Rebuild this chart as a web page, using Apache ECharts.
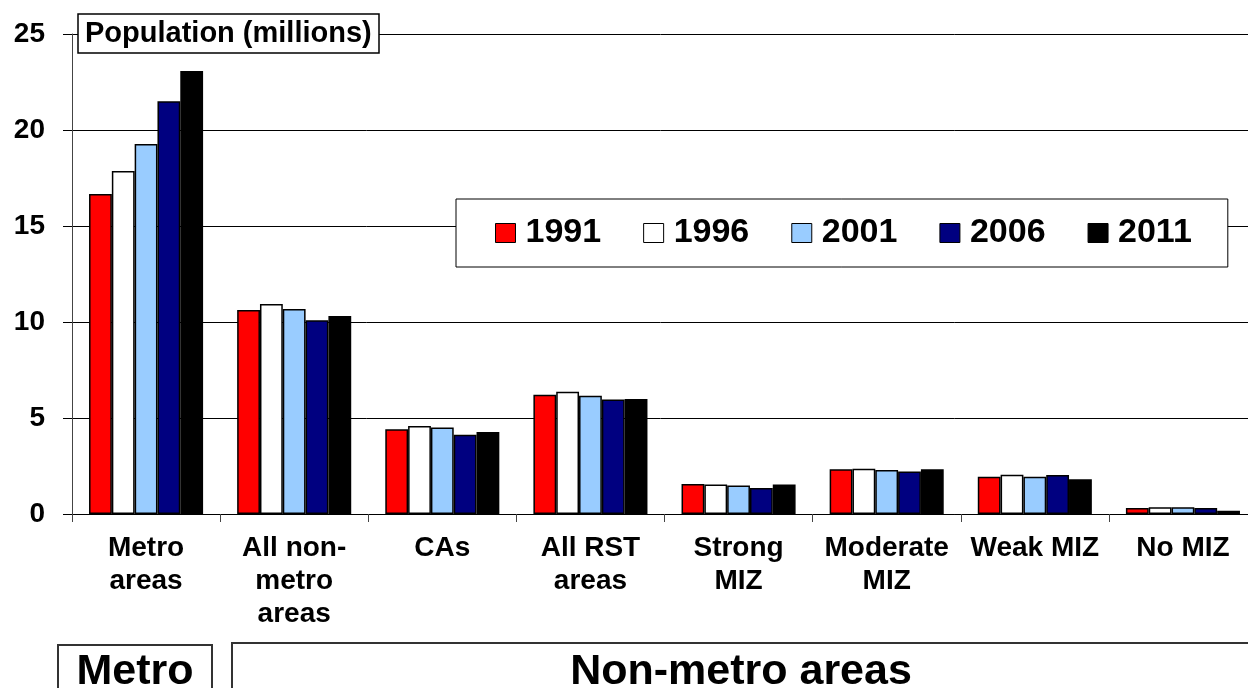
<!DOCTYPE html>
<html>
<head>
<meta charset="utf-8">
<title>Population (millions)</title>
<script src="https://cdn.jsdelivr.net/npm/echarts@6/dist/echarts.min.js"></script>
<style>
  html, body { margin: 0; padding: 0; background: #fff; }
  #chart { width: 1248px; height: 688px; }
</style>
</head>
<body>
<div id="chart"></div>
<script>
// categories (x axis)
const categories = ['Metro\nareas', 'All non-\nmetro\nareas', 'CAs', 'All RST\nareas', 'Strong\nMIZ', 'Moderate\nMIZ', 'Weak MIZ', 'No MIZ'];
// population in millions
const pop1991 = [16.67, 10.63, 4.41, 6.21, 1.56, 2.33, 1.94, 0.31];
const pop1996 = [17.86, 10.94, 4.58, 6.37, 1.54, 2.36, 2.05, 0.35];
const pop2001 = [19.27, 10.68, 4.51, 6.16, 1.49, 2.29, 1.94, 0.35];
const pop2006 = [21.5, 10.09, 4.13, 5.97, 1.35, 2.22, 2.03, 0.31];
const pop2011 = [23.07, 10.31, 4.27, 5.99, 1.54, 2.33, 1.81, 0.17];
const years = ['1991', '1996', '2001', '2006', '2011'];
const yTicks = [0, 5, 10, 15, 20, 25];

const FONT = '"Liberation Sans", Arial, sans-serif';
const colors = ['#ff0000', '#ffffff', '#99ccff', '#000080', '#000000'];
const seriesData = [pop1991, pop1996, pop2001, pop2006, pop2011];

const chart = echarts.init(document.getElementById('chart'));

const option = {
  animation: false,
  textStyle: { fontFamily: FONT },
  title: {
    text: 'Population (millions)',
    left: 78,
    top: 14,
    padding: [5, 7],
    backgroundColor: '#fff',
    borderColor: '#000',
    borderWidth: 1.5,
    textStyle: { fontFamily: FONT, fontSize: 29, fontWeight: 'bold', color: '#000' },
  },
  legend: {
    data: years,
    left: 456,
    top: 199,
    padding: [17, 36, 17, 39],
    backgroundColor: '#fff',
    borderColor: '#000',
    borderWidth: 1,
    itemWidth: 20,
    itemHeight: 19,
    itemGap: 42,
    icon: 'rect',
    itemStyle: { borderColor: '#000', borderWidth: 1 },
    textStyle: { fontFamily: FONT, fontSize: 34, fontWeight: 'bold', color: '#000', padding: [0, 0, 0, 5] },
  },
  // plot runs a little past the right edge of the picture
  grid: {
    left: 72,
    right: -9,
    top: 34,
    bottom: 174,
    containLabel: false,
    outerBoundsMode: 'none',
  },
  xAxis: {
    type: 'category',
    data: categories,
    axisLine: { show: true, lineStyle: { color: '#000', width: 1 } },
    axisTick: { show: true, length: 8, lineStyle: { color: '#444' } },
    axisLabel: {
      interval: 0,
      margin: 18,
      color: '#000',
      fontFamily: FONT,
      fontSize: 28,
      fontWeight: 'bold',
      lineHeight: 33,
    },
  },
  yAxis: {
    type: 'value',
    min: yTicks[0],
    max: yTicks[yTicks.length - 1],
    interval: 5,
    axisLine: { show: true, lineStyle: { color: '#444', width: 1 } },
    axisTick: { show: true, length: 9, lineStyle: { color: '#000' } },
    splitLine: { show: true, lineStyle: { color: '#000', width: 1 } },
    axisLabel: {
      margin: 27,
      color: '#000',
      fontFamily: FONT,
      fontSize: 28,
      fontWeight: 'bold',
    },
  },
  series: years.map((y, i) => ({
    name: y,
    type: 'bar',
    data: seriesData[i],
    barGap: '0%',
    barCategoryGap: '23%',
    itemStyle: { color: colors[i], borderColor: '#000', borderWidth: 1.5 },
  })),
  graphic: [
    {
      type: 'rect',
      shape: { x: 58, y: 645, width: 154, height: 70 },
      style: { fill: '#fff', stroke: '#333', lineWidth: 2 },
    },
    {
      type: 'text',
      x: 135,
      y: 672,
      style: {
        text: 'Metro',
        align: 'center',
        verticalAlign: 'middle',
        font: 'bold 43px ' + FONT,
        fill: '#000',
      },
    },
    {
      type: 'rect',
      shape: { x: 232, y: 643, width: 1040, height: 70 },
      style: { fill: '#fff', stroke: '#333', lineWidth: 2 },
    },
    {
      type: 'text',
      x: 741,
      y: 672,
      style: {
        text: 'Non-metro areas',
        align: 'center',
        verticalAlign: 'middle',
        font: 'bold 43px ' + FONT,
        fill: '#000',
      },
    },
  ],
};

chart.setOption(option);
</script>
</body>
</html>
